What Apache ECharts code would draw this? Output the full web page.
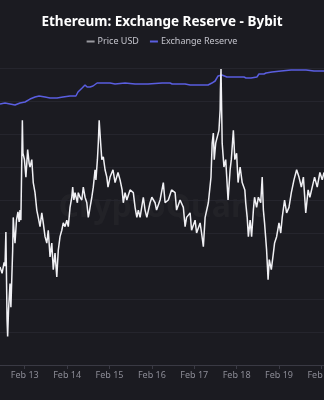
<!DOCTYPE html>
<html>
<head>
<meta charset="utf-8">
<script src="https://cdn.jsdelivr.net/npm/echarts@6/dist/echarts.min.js"></script>
<style>
html,body{margin:0;padding:0;background:#1b1b21;}
#chart{width:324px;height:400px;}
</style>
</head>
<body>
<div id="chart"></div>
<script>
const titleText = 'Ethereum: Exchange Reserve - Bybit';
const seriesNames = ['Price USD', 'Exchange Reserve'];
const xRange = ['2025-02-12 10:00', '2025-02-20 01:30'];
const priceAxisRange = [2520, 2844, 36];
const reserveAxisRange = [2700000, 3600000, 100000];

const priceData = [
['2025-02-12 10:00',2627],['2025-02-12 11:10',2620],['2025-02-12 12:20',2632],['2025-02-12 12:50',2628],
['2025-02-12 13:20',2665],['2025-02-12 14:00',2569],['2025-02-12 14:20',2551],['2025-02-12 14:50',2580],
['2025-02-12 15:40',2609],['2025-02-12 16:10',2583],['2025-02-12 17:10',2645],['2025-02-12 17:30',2681],
['2025-02-12 18:00',2664],['2025-02-12 18:30',2653],['2025-02-12 19:20',2678],['2025-02-12 20:10',2687],
['2025-02-12 20:50',2676],['2025-02-12 21:20',2689],['2025-02-12 21:50',2678],['2025-02-12 22:40',2787],
['2025-02-12 23:00',2751],['2025-02-12 23:50',2744],['2025-02-13 00:40',2725],['2025-02-13 01:40',2755],
['2025-02-13 02:30',2740],['2025-02-13 03:00',2736],['2025-02-13 04:00',2744],['2025-02-13 04:50',2719],
['2025-02-13 05:50',2708],['2025-02-13 06:50',2689],['2025-02-13 07:40',2681],['2025-02-13 08:40',2671],
['2025-02-13 09:40',2686],['2025-02-13 10:30',2675],['2025-02-13 11:30',2660],['2025-02-13 12:30',2653],
['2025-02-13 13:20',2667],['2025-02-13 14:20',2638],['2025-02-13 15:20',2653],['2025-02-13 16:10',2624],
['2025-02-13 17:10',2642],['2025-02-13 18:10',2616],['2025-02-13 19:00',2645],['2025-02-13 20:00',2660],
['2025-02-13 21:00',2667],['2025-02-13 21:50',2675],['2025-02-13 22:50',2671],['2025-02-13 23:50',2678],
['2025-02-14 00:40',2671],['2025-02-14 01:40',2692],['2025-02-14 02:40',2703],['2025-02-14 03:10',2714],
['2025-02-14 03:50',2700],['2025-02-14 04:30',2708],['2025-02-14 05:50',2697],['2025-02-14 06:20',2708],
['2025-02-14 07:20',2703],['2025-02-14 08:20',2700],['2025-02-14 09:10',2714],['2025-02-14 10:10',2703],
['2025-02-14 11:10',2697],['2025-02-14 12:00',2681],['2025-02-14 12:30',2686],['2025-02-14 13:00',2692],
['2025-02-14 14:00',2703],['2025-02-14 14:50',2714],['2025-02-14 15:50',2733],['2025-02-14 16:20',2722],
['2025-02-14 17:10',2744],['2025-02-14 17:40',2762],['2025-02-14 18:10',2787],['2025-02-14 19:00',2762],
['2025-02-14 19:40',2744],['2025-02-14 20:30',2747],['2025-02-14 21:30',2733],['2025-02-14 22:30',2725],
['2025-02-14 23:10',2714],['2025-02-15 00:20',2725],['2025-02-15 02:00',2733],['2025-02-15 03:10',2719],
['2025-02-15 04:50',2730],['2025-02-15 06:00',2722],['2025-02-15 07:10',2711],['2025-02-15 07:50',2697],
['2025-02-15 08:50',2708],['2025-02-15 09:50',2700],['2025-02-15 11:40',2711],['2025-02-15 13:30',2708],
['2025-02-15 14:30',2692],['2025-02-15 15:30',2681],['2025-02-15 16:20',2689],['2025-02-15 17:20',2681],
['2025-02-15 19:10',2703],['2025-02-15 20:10',2689],['2025-02-15 21:10',2681],['2025-02-15 23:00',2697],
['2025-02-16 00:00',2703],['2025-02-16 01:50',2697],['2025-02-16 02:40',2689],['2025-02-16 04:40',2700],
['2025-02-16 06:30',2719],['2025-02-16 07:30',2697],['2025-02-16 09:20',2700],['2025-02-16 11:10',2711],
['2025-02-16 13:10',2708],['2025-02-16 14:00',2689],['2025-02-16 16:00',2700],['2025-02-16 17:50',2692],
['2025-02-16 18:50',2671],['2025-02-16 19:40',2681],['2025-02-16 21:40',2686],['2025-02-16 22:30',2667],
['2025-02-17 00:30',2678],['2025-02-17 01:20',2664],['2025-02-17 03:20',2675],['2025-02-17 04:10',2664],
['2025-02-17 05:10',2649],['2025-02-17 06:10',2681],['2025-02-17 08:00',2697],['2025-02-17 09:30',2725],
['2025-02-17 10:10',2762],['2025-02-17 10:50',2773],['2025-02-17 11:20',2744],['2025-02-17 12:10',2762],
['2025-02-17 14:00',2776],['2025-02-17 14:40',2798],['2025-02-17 14:50',2820],['2025-02-17 15:10',2843],
['2025-02-17 15:50',2762],['2025-02-17 16:50',2736],['2025-02-17 17:50',2744],['2025-02-17 19:10',2700],
['2025-02-17 20:20',2733],['2025-02-17 21:00',2744],['2025-02-17 22:10',2776],['2025-02-17 23:00',2744],
['2025-02-18 00:00',2751],['2025-02-18 00:50',2719],['2025-02-18 02:00',2736],['2025-02-18 03:10',2719],
['2025-02-18 04:40',2711],['2025-02-18 05:10',2697],['2025-02-18 06:00',2681],['2025-02-18 06:40',2660],
['2025-02-18 07:40',2678],['2025-02-18 08:30',2660],['2025-02-18 09:30',2689],['2025-02-18 10:10',2703],
['2025-02-18 11:20',2692],['2025-02-18 12:20',2703],['2025-02-18 13:40',2697],['2025-02-18 14:30',2725],
['2025-02-18 15:10',2689],['2025-02-18 15:50',2675],['2025-02-18 17:00',2645],['2025-02-18 17:50',2613],
['2025-02-18 18:30',2635],['2025-02-18 19:40',2624],['2025-02-18 20:50',2642],['2025-02-18 21:30',2653],
['2025-02-18 22:40',2660],['2025-02-19 00:00',2675],['2025-02-19 01:00',2664],['2025-02-19 01:50',2681],
['2025-02-19 03:10',2700],['2025-02-19 04:20',2686],['2025-02-19 05:40',2692],['2025-02-19 07:00',2708],
['2025-02-19 08:30',2722],['2025-02-19 10:00',2733],['2025-02-19 11:20',2725],['2025-02-19 12:40',2714],
['2025-02-19 13:50',2725],['2025-02-19 15:10',2686],['2025-02-19 16:30',2711],['2025-02-19 17:30',2703],
['2025-02-19 18:50',2714],['2025-02-19 20:10',2725],['2025-02-19 21:40',2714],['2025-02-19 23:10',2730],
['2025-02-20 00:30',2722],['2025-02-20 01:30',2730]
];

const reserveData = [
['2025-02-12 10:00',3490900],['2025-02-12 12:50',3493900],['2025-02-12 15:40',3490900],['2025-02-12 18:30',3487900],
['2025-02-12 21:20',3493900],['2025-02-13 00:10',3497000],['2025-02-13 03:00',3506000],['2025-02-13 05:50',3512100],
['2025-02-13 08:10',3515200],['2025-02-13 11:30',3512100],['2025-02-13 14:20',3509100],['2025-02-13 18:20',3509100],
['2025-02-13 21:40',3512100],['2025-02-14 01:40',3515200],['2025-02-14 05:00',3515200],['2025-02-14 06:10',3527300],
['2025-02-14 08:30',3539400],['2025-02-14 10:10',3548500],['2025-02-14 11:20',3542400],['2025-02-14 13:00',3542400],
['2025-02-14 14:40',3545500],['2025-02-14 17:00',3554500],['2025-02-14 18:40',3554500],['2025-02-15 00:20',3554500],
['2025-02-15 03:10',3551500],['2025-02-15 08:50',3554500],['2025-02-15 14:30',3551500],['2025-02-15 21:50',3551500],
['2025-02-16 05:50',3554500],['2025-02-16 10:20',3554500],['2025-02-16 11:30',3551500],['2025-02-16 18:50',3551500],
['2025-02-16 21:40',3548500],['2025-02-17 02:10',3548500],['2025-02-17 07:50',3548500],['2025-02-17 10:00',3554500],
['2025-02-17 11:50',3560600],['2025-02-17 12:50',3563600],['2025-02-17 13:30',3575800],['2025-02-17 15:40',3578800],
['2025-02-17 18:30',3572700],['2025-02-17 22:30',3572700],['2025-02-18 04:10',3572700],['2025-02-18 05:20',3569700],
['2025-02-18 08:10',3569700],['2025-02-18 11:30',3572700],['2025-02-18 12:40',3581800],['2025-02-18 15:30',3581800],
['2025-02-18 16:40',3584800],['2025-02-18 20:00',3587900],['2025-02-19 01:10',3590900],['2025-02-19 06:50',3593900],
['2025-02-19 12:30',3593900],['2025-02-19 15:20',3593900],['2025-02-19 19:50',3590900],['2025-02-20 01:30',3590900]
];

const chart = echarts.init(document.getElementById('chart'), null, {renderer: 'canvas'});
const font = 'Noto Sans';
chart.setOption({
  backgroundColor: '#1b1b21',
  animation: false,
  textStyle: {fontFamily: font},
  title: {
    text: titleText, left: 'center', top: 10,
    textStyle: {color: '#ffffff', fontSize: 13.5, fontWeight: 'bold', fontFamily: font}
  },
  legend: {
    top: 32, left: 'center', itemWidth: 8, itemHeight: 2, itemGap: 11,
    icon: 'rect',
    textStyle: {color: '#c4c4cc', fontSize: 9, fontFamily: font, padding: [0, 0, 0, -2]},
    data: [
      {name: seriesNames[0], itemStyle: {color: '#9a9aa0'}},
      {name: seriesNames[1], itemStyle: {color: '#5a5ee0'}}
    ]
  },
  graphic: [{
    type: 'text', left: 'center', top: 192, z: 0, silent: true,
    style: {text: 'CryptoQuant', fill: 'rgba(255,255,255,0.03)', fontSize: 32, fontWeight: 'bold', fontFamily: font}
  }],
  grid: {left: 0, right: 0, top: 68, bottom: 35, containLabel: false, outerBoundsMode: 'none'},
  xAxis: {
    type: 'time', min: xRange[0], max: xRange[1],
    minInterval: 86400000, maxInterval: 86400000,
    axisLine: {lineStyle: {color: '#3a3a44'}},
    axisTick: {show: true, length: 4, lineStyle: {color: '#3a3a44'}},
    splitLine: {show: false},
    axisLabel: {
      color: '#8c8c96', fontSize: 9, margin: 6,
      showMinLabel: false, showMaxLabel: false,
      formatter: '{MMM} {d}', hideOverlap: false
    }
  },
  yAxis: [
    {
      type: 'value', min: priceAxisRange[0], max: priceAxisRange[1], interval: priceAxisRange[2],
      axisLabel: {show: false}, axisLine: {show: false}, axisTick: {show: false},
      splitLine: {show: true, lineStyle: {color: '#25252d', width: 1}}
    },
    {
      type: 'value', min: reserveAxisRange[0], max: reserveAxisRange[1], interval: reserveAxisRange[2],
      axisLabel: {show: false}, axisLine: {show: false}, axisTick: {show: false},
      splitLine: {show: false}
    }
  ],
  series: [
    {
      name: seriesNames[1], type: 'line', yAxisIndex: 1, data: reserveData,
      showSymbol: false, symbol: 'none', smooth: false, z: 2,
      lineStyle: {color: '#5a5ee0', width: 1.5}, itemStyle: {color: '#5a5ee0'}
    },
    {
      name: seriesNames[0], type: 'line', yAxisIndex: 0, data: priceData,
      showSymbol: false, symbol: 'none', smooth: false, z: 3,
      lineStyle: {color: '#f0f0f4', width: 1.5}, itemStyle: {color: '#9a9aa0'}
    }
  ]
});
</script>
</body>
</html>
